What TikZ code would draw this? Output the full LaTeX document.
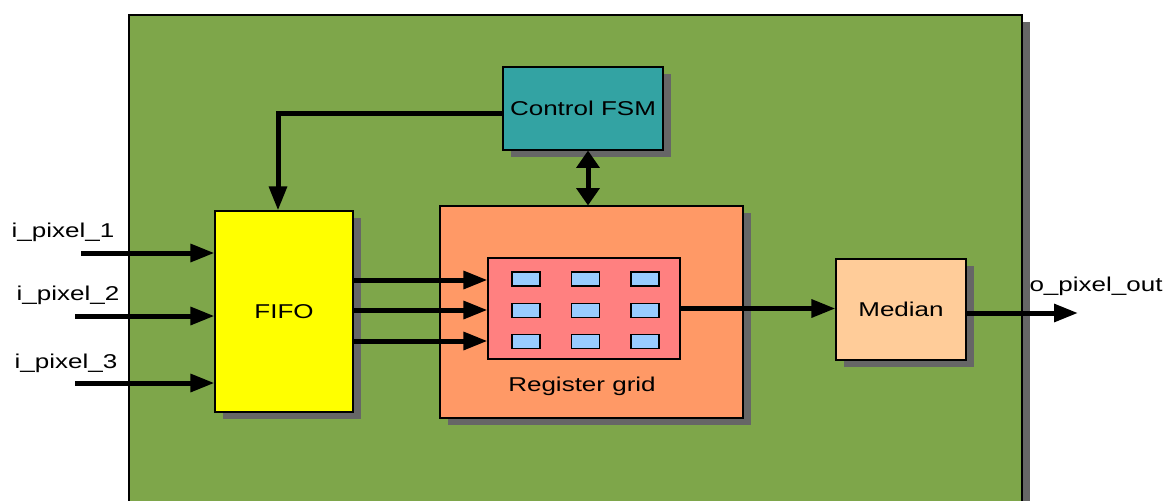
\documentclass[tikz,border=0pt]{standalone}
\usepackage{fontspec}
\setmainfont{Liberation Sans}
\newfontfamily\blockfont[FakeStretch=1.3]{Liberation Sans}
\usetikzlibrary{arrows.meta}
\usetikzlibrary{shadows}

\definecolor{boardgreen}{RGB}{126,166,74}
\definecolor{fsmteal}{RGB}{51,163,163}
\definecolor{fifoyellow}{RGB}{255,255,0}
\definecolor{regorange}{RGB}{255,153,102}
\definecolor{gridpink}{RGB}{255,128,128}
\definecolor{regblue}{RGB}{153,204,255}
\definecolor{medpeach}{RGB}{255,204,153}
\definecolor{shadowgray}{RGB}{102,102,102}

\begin{document}
\begin{tikzpicture}[x=0.75pt,y=0.75pt,yscale=-1,xscale=1,
    txt/.style={font=\blockfont\fontsize{15}{18}\selectfont},
    box/.style={draw=black, line width=0.8pt, inner sep=0pt, txt},
    block/.style={box, drop shadow={shadow xshift=6pt, shadow yshift=-5.5pt, fill=shadowgray, opacity=1}},
    regcell/.style={draw=black, line width=0.8pt, fill=regblue, minimum width=21pt, minimum height=10.5pt, inner sep=0pt},
    bus/.style={line width=3.75pt, -{Triangle[length=18pt,width=13pt]}},
    link/.style={line width=3.75pt, {Triangle[length=13pt,width=17pt]}-{Triangle[length=13pt,width=17pt]}},
    lbl/.style={txt, inner sep=0pt}]
    \useasboundingbox (0,0) rectangle (1166,500);

    % board
    \draw[block, fill=boardgreen] (129,15) rectangle (1022,530);

    % blocks
    \node[block, fill=fsmteal, minimum width=120pt, minimum height=62.25pt] (fsm) at (583,108.5) {Control FSM};
    \node[block, fill=fifoyellow, minimum width=103.5pt, minimum height=150.75pt] (fifo) at (284,311.5) {FIFO};
    \node[block, fill=regorange, minimum width=227.25pt, minimum height=159pt] (regbox) at (591.5,312) {};
    \node[box, fill=gridpink, minimum width=144pt, minimum height=75.75pt] (grid) at (584,308.5) {};
    \node[block, fill=medpeach, minimum width=97.5pt, minimum height=75.75pt] (median) at (901,309.5) {Median};
    \node[lbl] (regtext) at (582,386) {Register grid};

    % register cells
    \foreach \c [count=\i] in {526,585.5,645}
      \foreach \r [count=\j] in {279,310.5,341.5}
        \node[regcell] (cell\i\j) at (\c,\r) {};

    % inputs
    \coordinate (in1) at (81,253);
    \coordinate (in2) at (75,316);
    \coordinate (in3) at (75,383);
    \node[lbl] (lin1) at (63,232) {i\_pixel\_1};
    \node[lbl] (lin2) at (68,295) {i\_pixel\_2};
    \node[lbl] (lin3) at (66,363) {i\_pixel\_3};
    \foreach \k in {1,2,3}
      \draw[bus] (in\k) -- (in\k -| fifo.west);

    % fifo to grid
    \foreach \y in {280,310,341}
      \draw[bus] (fifo.east |- 0,\y) -- (grid.west |- 0,\y);

    % control
    \draw[bus] ([yshift=3.4pt]fsm.west) -| ([xshift=-4.5pt]fifo.north);
    \draw[link] ([xshift=3.75pt]fsm.south) -- ([xshift=3.75pt]fsm.south |- regbox.north);

    % output
    \draw[bus] (grid.east) -- (grid.east -| median.west);
    \coordinate (out) at (1078,313);
    \node[lbl] (lout) at (1096,286) {o\_pixel\_out};
    \draw[bus] (median.east |- out) -- (out);
\end{tikzpicture}
\end{document}
